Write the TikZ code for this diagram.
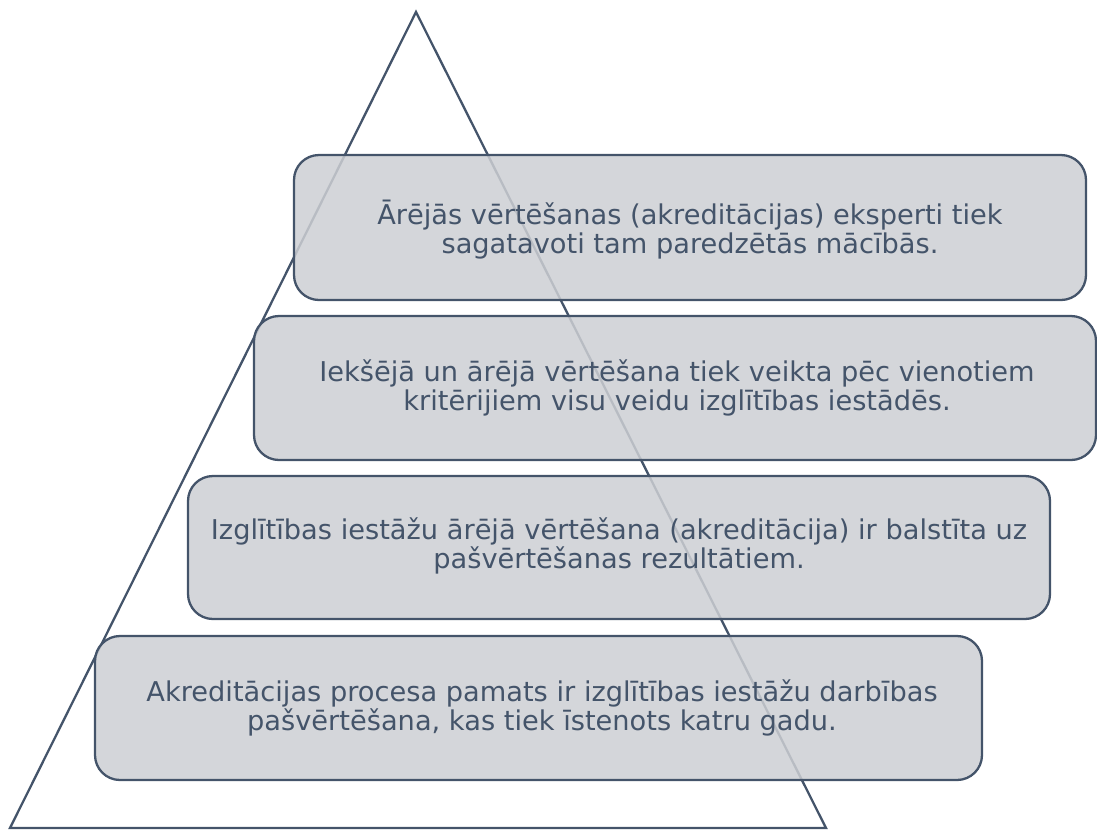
\documentclass[tikz,border=0pt]{standalone}
\usepackage{fontspec}
\setmainfont{DejaVu Sans}
\definecolor{edge}{HTML}{44546A}
\definecolor{boxfill}{HTML}{CDCFD3}
\begin{document}
\begin{tikzpicture}[x=0.02cm,y=-0.02cm,
  tier/.style={draw=edge, line width=1.3pt, fill=boxfill, fill opacity=0.85, text opacity=1, rounded corners=0.5cm},
  lbl/.style={text=edge, align=center, font=\fontsize{15.5}{16.6}\selectfont, inner sep=0pt}]
\useasboundingbox (0,0) rectangle (1097,829);
\coordinate (apex) at (416,12);
\coordinate (bl) at (10,828);
\coordinate (br) at (826,828);
\draw[edge, line width=1.3pt, line join=miter] (bl) -- (apex) -- (br) -- cycle;
\path[tier] (294,155) rectangle (1086,300);
\path[tier] (254,316) rectangle (1096,460);
\path[tier] (188,476) rectangle (1050,619);
\path[tier] (95,636) rectangle (982,780);
\node[lbl] (t1) at (690,230) {Ārējās vērtēšanas (akreditācijas) eksperti tiek\\ sagatavoti tam paredzētās mācībās.};
\node[lbl] (t2) at (677,388) {Iekšējā un ārējā vērtēšana tiek veikta pēc vienotiem\\ kritērijiem visu veidu izglītības iestādēs.};
\node[lbl] (t3) at (619,546) {Izglītības iestāžu ārējā vērtēšana (akreditācija) ir balstīta uz\\ pašvērtēšanas rezultātiem.};
\node[lbl] (t4) at (542,708) {Akreditācijas procesa pamats ir izglītības iestāžu darbības\\ pašvērtēšana, kas tiek īstenots katru gadu.};
\end{tikzpicture}
\end{document}
